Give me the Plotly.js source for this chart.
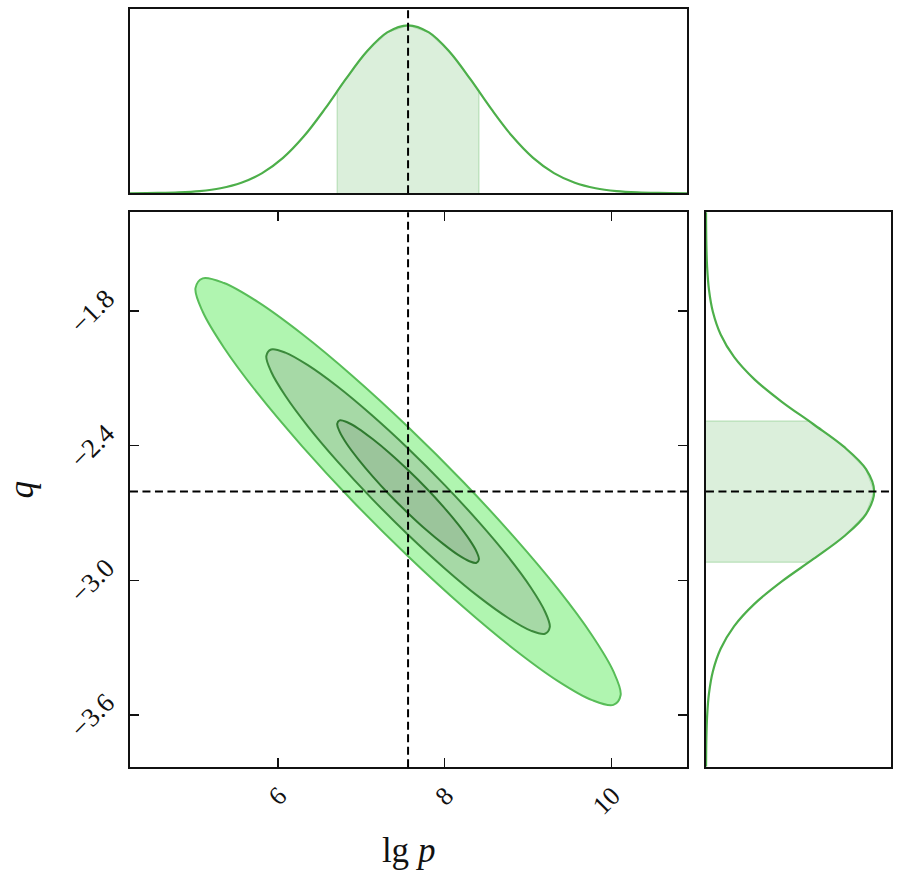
<!DOCTYPE html>
<html>
<head>
<meta charset="utf-8">
<script src="https://cdn.plot.ly/plotly-3.0.1.min.js"></script>
<style>
  html, body { margin: 0; padding: 0; background: #fff; }
  #chart { width: 900px; height: 877px; }
</style>
</head>
<body>
<div id="chart"></div>
<script>
// best-fit point (dashed cross)
var truthLgp = 7.56;
var truthQ = -2.605;

// tick labels of the joint panel
var xTicks = [6, 8, 10];
var yTicks = [-1.8, -2.4, -3.0, -3.6];

// joint posterior contours (outer -> inner), closed outlines
var outerLgp = [10.11, 10.023, 9.768, 9.363, 8.835, 8.22, 7.56, 6.90, 6.285, 5.757, 5.352, 5.097, 5.01, 5.097, 5.352, 5.757, 6.285, 6.90, 7.56, 8.22, 8.835, 9.363, 9.768, 10.023, 10.11];
var outerQ   = [-3.511, -3.406, -3.246, -3.042, -2.809, -2.561, -2.317, -2.092, -1.902, -1.760, -1.676, -1.655, -1.699, -1.804, -1.964, -2.168, -2.401, -2.649, -2.893, -3.118, -3.308, -3.450, -3.534, -3.555, -3.511];

var middleLgp = [9.26, 9.202, 9.032, 8.762, 8.41, 8.0, 7.56, 7.12, 6.71, 6.358, 6.088, 5.918, 5.86, 5.918, 6.088, 6.358, 6.71, 7.12, 7.56, 8.0, 8.41, 8.762, 9.032, 9.202, 9.26];
var middleQ   = [-3.209, -3.139, -3.032, -2.896, -2.741, -2.576, -2.413, -2.263, -2.136, -2.042, -1.986, -1.972, -2.001, -2.071, -2.178, -2.314, -2.469, -2.634, -2.797, -2.947, -3.074, -3.168, -3.224, -3.238, -3.209];

var innerLgp = [8.41, 8.381, 8.296, 8.161, 7.985, 7.78, 7.56, 7.34, 7.135, 6.959, 6.824, 6.739, 6.71, 6.739, 6.824, 6.959, 7.135, 7.34, 7.56, 7.78, 7.985, 8.161, 8.296, 8.381, 8.41];
var innerQ   = [-2.907, -2.872, -2.819, -2.751, -2.673, -2.590, -2.509, -2.434, -2.371, -2.323, -2.295, -2.288, -2.303, -2.338, -2.392, -2.459, -2.537, -2.620, -2.701, -2.776, -2.839, -2.887, -2.915, -2.922, -2.907];

// marginal of lg p (top panel), peak = 1
var lgpGrid = [4.22, 4.56, 4.81, 5.06, 5.31, 5.56, 5.81, 6.06, 6.31, 6.56, 6.81, 7.06, 7.31, 7.56, 7.81, 8.06, 8.31, 8.56, 8.81, 9.06, 9.31, 9.56, 9.81, 10.06, 10.31, 10.56, 10.91];
var lgpDens = [0.0004, 0.002, 0.0053, 0.0132, 0.0301, 0.0628, 0.1201, 0.2108, 0.3391, 0.5005, 0.6776, 0.8411, 0.9577, 1, 0.9577, 0.8411, 0.6776, 0.5005, 0.3391, 0.2108, 0.1201, 0.0628, 0.0301, 0.0132, 0.0053, 0.002, 0.0004];
// shaded 1-sigma band of lg p
var lgpBandX = [6.71, 6.71, 6.81, 7.06, 7.31, 7.56, 7.81, 8.06, 8.31, 8.41, 8.41];
var lgpBandY = [0, 0.607, 0.678, 0.841, 0.958, 1, 0.958, 0.841, 0.678, 0.607, 0];

// marginal of q (right panel), peak = 1
var qGrid = [-3.83, -3.705, -3.605, -3.505, -3.405, -3.305, -3.205, -3.105, -3.005, -2.905, -2.805, -2.705, -2.605, -2.505, -2.405, -2.305, -2.205, -2.105, -2.005, -1.905, -1.805, -1.705, -1.605, -1.505, -1.36];
var qDens = [0.0006, 0.0024, 0.0069, 0.0178, 0.0414, 0.0874, 0.1668, 0.2883, 0.4511, 0.6390, 0.8196, 0.9515, 1, 0.9515, 0.8196, 0.6390, 0.4511, 0.2883, 0.1668, 0.0874, 0.0414, 0.0178, 0.0069, 0.0024, 0.0004];
// shaded 1-sigma band of q
var qBandY = [-2.92, -2.92, -2.905, -2.805, -2.705, -2.605, -2.505, -2.405, -2.305, -2.29, -2.29];
var qBandX = [0, 0.609, 0.639, 0.820, 0.952, 1, 0.952, 0.820, 0.639, 0.609, 0];

var serif = 'Liberation Serif, DejaVu Serif, serif';
var green = '#4daf4a';

var traces = [
  // contours, drawn outer first so inner ones sit on top
  {x: outerLgp, y: outerQ, xaxis: 'x', yaxis: 'y', type: 'scatter', mode: 'lines', fill: 'toself',
   fillcolor: '#b0f5b0', line: {color: '#58bd58', width: 2, shape: 'spline'}},
  {x: middleLgp, y: middleQ, xaxis: 'x', yaxis: 'y', type: 'scatter', mode: 'lines', fill: 'toself',
   fillcolor: '#a6d9a6', line: {color: '#3b8a3b', width: 2, shape: 'spline'}},
  {x: innerLgp, y: innerQ, xaxis: 'x', yaxis: 'y', type: 'scatter', mode: 'lines', fill: 'toself',
   fillcolor: '#9bc59b', line: {color: '#2f7a2f', width: 2, shape: 'spline'}},

  // top marginal
  {x: lgpBandX, y: lgpBandY, xaxis: 'x2', yaxis: 'y2', type: 'scatter', mode: 'lines', fill: 'toself',
   fillcolor: '#dbefdb', line: {color: 'rgba(77,175,74,0.25)', width: 1.5}},
  {x: lgpGrid, y: lgpDens, xaxis: 'x2', yaxis: 'y2', type: 'scatter', mode: 'lines',
   line: {color: green, width: 2.2, shape: 'spline'}},

  // right marginal
  {x: qBandX, y: qBandY, xaxis: 'x3', yaxis: 'y3', type: 'scatter', mode: 'lines', fill: 'toself',
   fillcolor: '#dbefdb', line: {color: 'rgba(77,175,74,0.25)', width: 1.5}},
  {x: qDens, y: qGrid, xaxis: 'x3', yaxis: 'y3', type: 'scatter', mode: 'lines',
   line: {color: green, width: 2.2, shape: 'spline'}}
];

var frame = {showline: true, linewidth: 2, linecolor: '#111', mirror: true,
             showgrid: false, zeroline: false};

function dashed(xref, yref, x0, x1, y0, y1) {
  return {type: 'line', xref: xref, yref: yref, x0: x0, x1: x1, y0: y0, y1: y1,
          line: {color: '#000', width: 2, dash: '8px,4.5px'}};
}

var layout = {
  width: 900, height: 877,
  margin: {l: 0, r: 0, t: 0, b: 0},
  paper_bgcolor: '#fff', plot_bgcolor: '#fff',
  showlegend: false,
  font: {family: serif, color: '#111'},

  xaxis: Object.assign({}, frame, {
    domain: [0.1444, 0.7637], range: [4.224, 10.91], anchor: 'y',
    tickvals: xTicks, tickangle: -45, ticks: 'inside', ticklen: 9, tickwidth: 1.3, tickcolor: '#111',
    mirror: 'ticks', tickfont: {family: serif, size: 26}, ticklabelshift: 1, ticklabelstandoff: 1,
    title: {text: 'lg <i>p</i>', font: {family: serif, size: 35}, standoff: 18}
  }),
  yaxis: Object.assign({}, frame, {
    domain: [0.1251, 0.7579], range: [-3.833, -1.361], anchor: 'x',
    tickvals: yTicks, tickformat: '.1f', tickangle: -45, ticks: 'inside', ticklen: 9, tickwidth: 1.3, tickcolor: '#111',
    mirror: 'ticks', tickfont: {family: serif, size: 27}, ticklabelshift: -16, ticklabelstandoff: 16,
    title: {text: '<i>q</i>', font: {family: serif, size: 35}, standoff: 20}
  }),

  xaxis2: Object.assign({}, frame, {
    domain: [0.1444, 0.7637], range: [4.224, 10.91], anchor: 'y2',
    showticklabels: false, ticks: ''
  }),
  yaxis2: Object.assign({}, frame, {
    domain: [0.7796, 0.9903], range: [0, 1.1], anchor: 'x2',
    showticklabels: false, ticks: ''
  }),

  xaxis3: Object.assign({}, frame, {
    domain: [0.7844, 0.99], range: [0, 1.1], anchor: 'y3',
    showticklabels: false, ticks: ''
  }),
  yaxis3: Object.assign({}, frame, {
    domain: [0.1251, 0.7579], range: [-3.833, -1.361], anchor: 'x3',
    showticklabels: false, ticks: ''
  }),

  shapes: [
    dashed('x', 'y domain', truthLgp, truthLgp, 0, 1),
    dashed('x2', 'y2 domain', truthLgp, truthLgp, 0, 1),
    dashed('x domain', 'y', 0, 1, truthQ, truthQ),
    dashed('x3 domain', 'y3', 0, 1, truthQ, truthQ)
  ]
};

Plotly.newPlot('chart', traces, layout, {displayModeBar: false, staticPlot: true});
</script>
</body>
</html>
